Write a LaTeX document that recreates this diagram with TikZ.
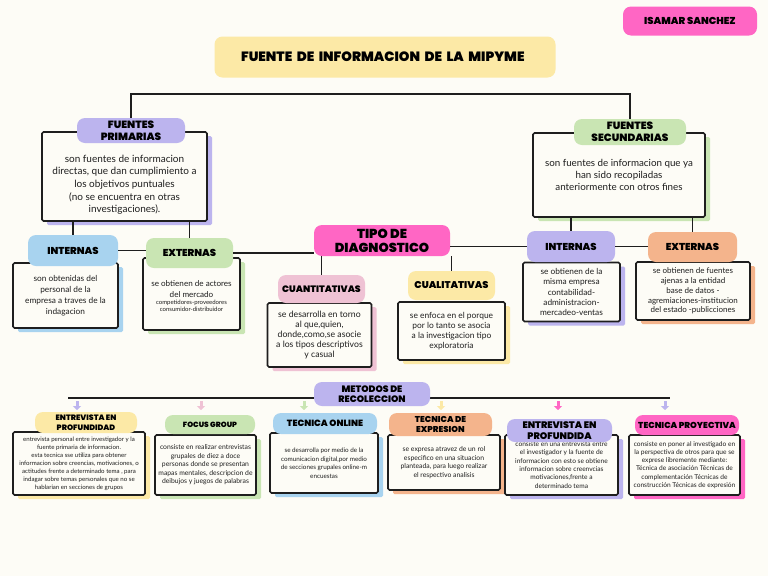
\documentclass[tikz,border=0pt]{standalone}
\usepackage{fontspec}
\setmainfont{Lato}
\newfontfamily\headfont{Poppins}[BoldFont={Poppins Black}]
\usepackage{tikz}
\usetikzlibrary{shadows}
\usetikzlibrary{arrows.meta}
\definecolor{paper}{HTML}{FDFCF6}
\definecolor{tinta}{HTML}{1E1E1E}
\definecolor{lila}{HTML}{BCB4EE}
\definecolor{verde}{HTML}{C9E5B3}
\definecolor{celeste}{HTML}{A8D3EF}
\definecolor{naranja}{HTML}{F4B48C}
\definecolor{amarillo}{HTML}{FCE9A6}
\definecolor{rosa}{HTML}{FF66C4}
\definecolor{rosita}{HTML}{EFC2D4}
\newcommand{\hsz}[2]{\headfont\bfseries\fontsize{#1}{#2}\selectfont}
\newcommand{\bsz}[2]{\fontsize{#1}{#2}\selectfont}
\tikzset{>=latex}
\tikzstyle{link} = [tinta, line width=1.8pt]
\tikzset{pill/.style={fill=#1, rounded corners=8pt, inner sep=1pt, align=center, text=black},
         card/.style={draw=tinta, line width=1.6pt, fill=paper, rounded corners=1.5pt, align=center, text=tinta,
                      drop shadow={shadow xshift=5pt, shadow yshift=-4pt, fill=#1, opacity=1}},
         chev/.style={#1, line width=3pt, -{Triangle[width=8pt,length=4pt]}}}

\begin{document}
\begin{tikzpicture}[x=1pt, y=-1pt]
    \useasboundingbox (0,0) rectangle (768,576);
    \fill[paper] (0,0) rectangle (768,576);

    % header
    \node[pill=rosa, minimum width=134, minimum height=29, font=\hsz{10}{12}] (autor) at (690,21) {ISAMAR SANCHEZ};
    \node[pill=amarillo, minimum width=341, minimum height=41, text width=288, align=left, font=\hsz{13.5}{15}] (titulo) at (385,57) {FUENTE DE INFORMACION DE LA MIPYME};

    % fuentes primarias y secundarias
    \node[card=lila, minimum width=165, minimum height=89, font=\bsz{10}{12.7}] (bP) at (124.5,176.5)
        {\rule{0pt}{24pt}son fuentes de informacion\\directas, que dan cumplimiento a\\los objetivos puntuales\\(no se encuentra en otras\\investigaciones).};
    \node[pill=lila, minimum width=108, minimum height=25, font=\hsz{10.5}{12}] (fP) at (131,130.5) {FUENTES\\PRIMARIAS};
    \node[card=verde, minimum width=172, minimum height=84, font=\bsz{9.8}{12}] (bS) at (619,175)
        {son fuentes de informacion que ya\\han sido recopiladas\\anteriormente con otros fines};
    \node[pill=verde, minimum width=112, minimum height=26, font=\hsz{10.5}{12}] (fS) at (630,132) {FUENTES\\SECUNDARIAS};
    \coordinate (spine) at (0,94);
    \draw[link] (fP.north) -- (fP.north |- spine) -| (fS.north);

    % internas / externas
    \node[card=celeste, minimum width=105, minimum height=65, font=\bsz{8.3}{10.8}] (bIL) at (65.5,295.5)
        {son obtenidas del\\personal de la\\empresa a traves de la\\indagacion};
    \node[pill=celeste, minimum width=90, minimum height=31, font=\hsz{10}{12}] (pIL) at (73,250.5) {INTERNAS};
    \node[card=verde, minimum width=97, minimum height=72, font=\bsz{8.1}{10.5}] (bEL) at (191.5,294)
        {\rule{0pt}{11pt}se obtienen de actores\\del mercado\\[-3.5pt]{\bsz{6}{7}competidores-proveedores}\\[-3pt]{\bsz{6}{7}consumidor-distribuidor}};
    \node[pill=verde, minimum width=87, minimum height=30, font=\hsz{10}{12}] (pEL) at (189.5,253) {EXTERNAS};
    \node[card=lila, minimum width=97, minimum height=59, font=\bsz{8.3}{10.2}] (bIR) at (571.5,292)
        {se obtienen de la\\misma empresa\\contabilidad-\\administracion-\\mercadeo-ventas};
    \node[pill=lila, minimum width=88, minimum height=31, font=\hsz{10}{12}] (pIR) at (571,246.5) {INTERNAS};
    \node[card=naranja, minimum width=114, minimum height=58, font=\bsz{8}{9.8}] (bER) at (693,291)
        {se obtienen de fuentes\\ajenas a la entidad\\base de datos -\\agremiaciones-institucion\\del estado -publicciones};
    \node[pill=naranja, minimum width=89, minimum height=30, font=\hsz{10}{12}] (pER) at (692.5,247) {EXTERNAS};
    \draw[link] (bP.south -| pIL.north) -- (pIL.north);
    \draw[link] (bP.south -| pEL.north) -- (pEL.north);
    \draw[link] (bS.south -| pIR.north) -- (pIR.north);
    \draw[link] (bS.south -| pER.north) -- (pER.north);

    % tipo de diagnostico
    \node[card=rosita, minimum width=104, minimum height=64, font=\bsz{8.7}{10}] (bCt) at (319.5,335)
        {se desarrolla en torno\\al que,quien,\\donde,como,se asocie\\a los tipos descriptivos\\y casual};
    \node[pill=rosita, minimum width=87, minimum height=28, font=\hsz{9.3}{11}] (pCt) at (321.5,289) {CUANTITATIVAS};
    \node[card=amarillo, minimum width=107, minimum height=58, font=\bsz{8.4}{10}] (bCl) at (451.5,331)
        {se enfoca en el porque\\por lo tanto se asocia\\a la investigacion tipo\\exploratoria};
    \node[pill=amarillo, minimum width=87, minimum height=29, font=\hsz{9.8}{11}] (pCl) at (451.5,285.5) {CUALITATIVAS};
    \node[pill=rosa, minimum width=136, minimum height=31, font=\hsz{13}{14}] (pTipo) at (382,240.5) {TIPO DE\\DIAGNOSTICO};
    \draw[link] (pCt.north) -- (pCt.north |- pTipo.south);
    \draw[link] (pCl.north) -- (pCl.north |- pTipo.south);
    \draw[link] (pIL.east) -- (pIL.east -| pEL.west);
    \draw[link] (pEL.east) -- (pEL.east -| pTipo.west);
    \draw[link] (pTipo.east |- pIR.west) -- (pIR.west);
    \draw[link] (pIR.east) -- (pIR.east -| pER.west);

    % metodos de recoleccion
    \coordinate (mL) at (68,398);
    \coordinate (mR) at (670,398);
    \draw[link] (mL) -- (mR);
    \node[pill=lila, minimum width=116, minimum height=24, font=\hsz{9.3}{10}] (pMet) at (372,394) {METODOS DE\\RECOLECCION};
    \foreach \x/\c in {77/lila, 201/rosita, 304/verde, 441/amarillo, 558/rosa, 665/lila}
        \draw[chev=\c] (\x,401) -- (\x,410);

    \node[card=amarillo, minimum width=132, minimum height=63, font=\bsz{6.1}{8}] (bEEP) at (79,463.5)
        {entrevista personal entre investigador  y la\\fuente primaria de informacion.\\esta tecnica sse utiliza para obtener\\informacion sobre creencias, motivaciones, o\\actitudes frente a determinado tema , para\\indagar sobre temas personales que no se\\hablarian en secciones de grupos};
    \node[pill=amarillo, minimum width=102, minimum height=21, font=\hsz{7.8}{9.5}] (pEEP) at (86,422.5) {ENTREVISTA EN\\PROFUNDIDAD};
    \node[card=verde, minimum width=101, minimum height=60, font=\bsz{6.8}{8.5}] (bFG) at (205.5,465)
        {consiste en realizar entrevistas\\grupales de diez a doce\\personas  donde se presentan\\mapas mentales, descripcion de\\deibujos y juegos de palabras};
    \node[pill=verde, minimum width=90, minimum height=19, font=\hsz{7.5}{9}] (pFG) at (210,424.5) {FOCUS GROUP};
    \node[card=celeste, minimum width=108, minimum height=60, font=\bsz{6.3}{8.5}] (bTO) at (324,463)
        {se desarrolla por medio de la\\comunicacion digital,por medio\\de secciones grupales online-m\\encuestas};
    \node[pill=celeste, minimum width=104, minimum height=21, font=\hsz{9}{10}] (pTO) at (325,423.5) {TECNICA ONLINE};
    \node[card=naranja, minimum width=112, minimum height=55, font=\bsz{6.8}{8.5}] (bTE) at (444,462.5)
        {se expresa atravez de un rol\\especifico  en una situacion\\planteada, para luego realizar\\el respectivo analisis};
    \node[pill=naranja, minimum width=103, minimum height=23, font=\hsz{8.5}{10}] (pTE) at (440.5,424.5) {TECNICA DE\\EXPRESION};
    \node[card=lila, minimum width=113, minimum height=60, font=\bsz{6.6}{8.3}] (bEP) at (561.5,465)
        {consiste en una entrevista entre\\el investigador y la fuente de\\informacion con esto se obtiene\\informacion sobre creenvcias\\motivaciones,frente a\\determinado tema};
    \node[pill=lila, minimum width=105, minimum height=23, font=\hsz{9.5}{10.5}] (pEP) at (559.5,430.5) {ENTREVISTA EN\\PROFUNDIDA};
    \node[card=rosa, minimum width=111, minimum height=60, font=\bsz{6.6}{8.2}] (bTP) at (684.5,465)
        {consiste en poner al investigado en\\la perspectiva de otros para que se\\exprese libremente mediante:\\Técnica de asociación Técnicas de\\complementación Técnicas de\\construcción Técnicas de expresión};
    \node[pill=rosa, minimum width=104, minimum height=20, font=\hsz{8.6}{9.5}] (pTP) at (687,425) {TECNICA PROYECTIVA};
\end{tikzpicture}
\end{document}
